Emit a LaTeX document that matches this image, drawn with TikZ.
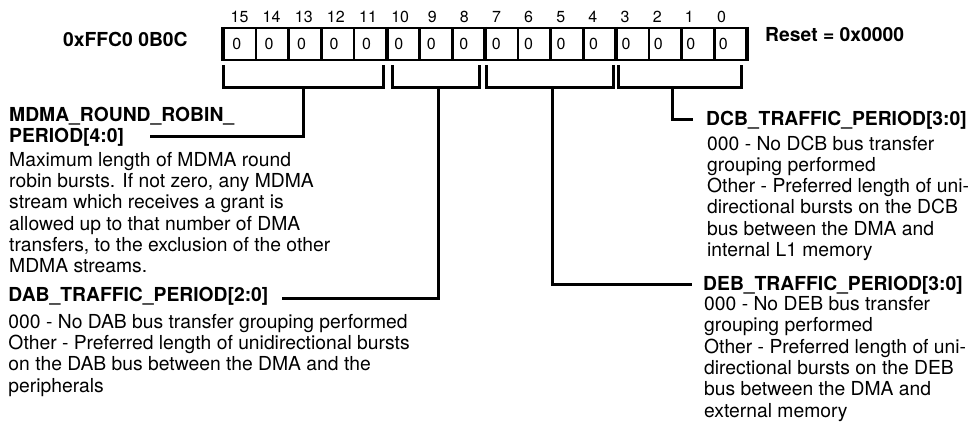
\documentclass[tikz,border=0pt]{standalone}
\usepackage{fontspec}
\setmainfont{TeX Gyre Heros}
\usetikzlibrary{positioning}

\begin{document}
\begin{tikzpicture}[x=1pt, y=-1pt, every node/.style={inner sep=0pt},
  txt/.style={font=\fontsize{19.3}{21.3}\selectfont, anchor=base west, align=left},
  head/.style={txt, font=\fontsize{19.3}{21.3}\selectfont\bfseries},
  brk/.style={line width=3pt}]
	\useasboundingbox (0,0) rectangle (974,421);
	% register cells and bit numbers
	\foreach \b in {0,...,15} {
		\node[font=\fontsize{16}{16}\selectfont, anchor=base] (bit\b) at (239.5+15*32.13-\b*32.13,22) {\b};
		\node[font=\fontsize{16}{16}\selectfont, anchor=base] (cell\b) at (236.7+15*32.44-\b*32.44,49) {0};
	}
	\draw[line width=2.5pt] (223,28) rectangle (747,60);
	\foreach \k in {1,...,15} {\draw[line width=2.5pt] (223+\k*32.75,28) -- (223+\k*32.75,60);}
	\foreach \k in {0,5,8,12,16} {\draw[line width=4.5pt] (223+\k*32.75,26.75) -- (223+\k*32.75,61.25);}
	\node[head] (addr) at (63,46.7) {0xFFC0 0B0C};
	\node[head] (reset) at (765,41.7) {Reset = 0x0000};
	% field descriptions (base = last line)
	\node[head] (mdmahead) at (9,142.8) {MDMA\_ROUND\_ROBIN\_\\PERIOD[4:0]};
	\node[txt] (mdmatext) at (9,272.8) {Maximum length of MDMA round\\robin bursts. If not zero, any MDMA\\stream which receives a grant is\\allowed up to that number of DMA\\transfers, to the exclusion of the other\\MDMA streams.};
	\node[head] (dabhead) at (8.3,301.5) {DAB\_TRAFFIC\_PERIOD[2:0]};
	\node[txt] (dabtext) at (8.3,392.2) {000 - No DAB bus transfer grouping performed\\Other - Preferred length of unidirectional bursts\\on the DAB bus between the DMA and the\\peripherals};
	\node[head] (dcbhead) at (706,125) {DCB\_TRAFFIC\_PERIOD[3:0]};
	\node[txt] (dcbtext) at (707,256.5) {000 - No DCB bus transfer\\grouping performed\\Other - Preferred length of uni-\\directional bursts on the DCB\\bus between the DMA and\\internal L1 memory};
	\node[head] (debhead) at (703,290.5) {DEB\_TRAFFIC\_PERIOD[3:0]};
	\node[txt] (debtext) at (704,417) {000 - No DEB bus transfer\\grouping performed\\Other - Preferred length of uni-\\directional bursts on the DEB\\bus between the DMA and\\external memory};
	% brackets
	\draw[brk] (223.5,65) |- (383,87) -- (383,65);
	\draw[brk] (392.5,65) |- (479.5,87) -- (479.5,65);
	\draw[brk] (486,65) |- (613,87) -- (613,65);
	\draw[brk] (618.5,65) |- (741.5,87) -- (741.5,65);
	\coordinate (mdmastem) at (303,87);  \coordinate (mdmaend) at (150,136.7);
	\coordinate (dabstem) at (438,87);   \coordinate (dabend) at (282,298.3);
	\coordinate (debstem) at (552,87);   \coordinate (debend) at (692,284);
	\coordinate (dcbstem) at (672,87);   \coordinate (dcbend) at (693,119.3);
	\draw[brk] (mdmastem) |- (mdmaend);
	\draw[brk] (dabstem) |- (dabend);
	\draw[brk] (debstem) |- (debend);
	\draw[brk] (dcbstem) |- (dcbend);
\end{tikzpicture}
\end{document}
